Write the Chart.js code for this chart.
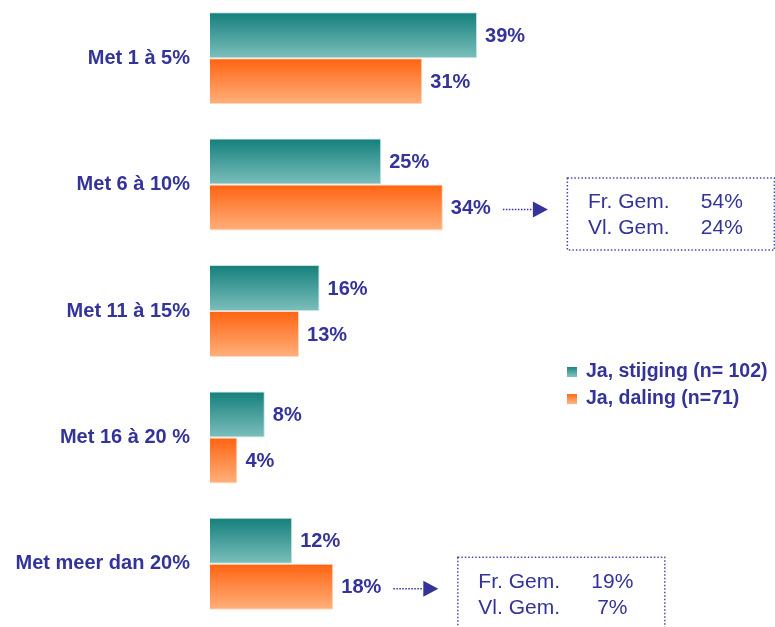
<!DOCTYPE html>
<html>
<head>
<meta charset="utf-8">
<script src="https://cdn.jsdelivr.net/npm/chart.js@4"></script>
<style>
  html, body { margin: 0; padding: 0; background: #fff; overflow: hidden; }
  #wrap { position: relative; width: 775px; height: 627px; overflow: hidden; }
  #chart { position: absolute; left: 0; top: -5px; }
</style>
</head>
<body>
<div id="wrap"><canvas id="chart" width="775" height="632"></canvas></div>
<script>
const categories = ["Met 1 à 5%", "Met 6 à 10%", "Met 11 à 15%", "Met 16 à 20 %", "Met meer dan 20%"];
const seriesNames = ["Ja, stijging (n= 102)", "Ja, daling (n=71)"];
const stijging = [39, 25, 16, 8, 12];
const daling = [31, 34, 13, 4, 18];

// callouts next to the "daling" bars
const calloutNames = ["Fr. Gem.", "Vl. Gem."];
const frGem = [null, 54, null, null, 19];
const vlGem = [null, 24, null, null, 7];

const navy = "#333399";
const teal = ["#147f7b", "#7cbfbc"];
const orange = ["#ff6310", "#ffb07c"];
const groupPct = 0.728;

function barGradient(ctx, colors, lower) {
    const chart = ctx.chart;
    const y = chart.scales.y;
    if (!y || ctx.dataIndex === undefined) return colors[0];
    const c = y.getPixelForValue(ctx.dataIndex);
    const step = Math.abs(y.getPixelForValue(1) - y.getPixelForValue(0));
    if (!isFinite(c) || !isFinite(step) || step === 0) return colors[0];
    const half = step * groupPct / 2;
    const top = lower ? c : c - half;
    const g = chart.ctx.createLinearGradient(0, top, 0, top + half);
    g.addColorStop(0, colors[0]);
    g.addColorStop(1, colors[1]);
    return g;
}

const overlay = {
    id: "overlay",
    afterDatasetsDraw(chart) {
        const ctx = chart.ctx;
        ctx.save();
        ctx.fillStyle = navy;
        ctx.textBaseline = "middle";
        ctx.textAlign = "left";
        ctx.font = "bold 20px 'Liberation Sans', Arial, sans-serif";
        const values = [stijging, daling];
        values.forEach((vals, i) => {
            chart.getDatasetMeta(i).data.forEach((bar, idx) => {
                ctx.fillText(vals[idx] + "%", bar.x + 8, bar.y + 1);
            });
        });

        // callouts
        const meta = chart.getDatasetMeta(1);
        frGem.forEach((fr, idx) => {
            if (fr === null) return;
            const bar = meta.data[idx];
            ctx.font = "bold 20px 'Liberation Sans', Arial, sans-serif";
            const w = ctx.measureText(daling[idx] + "%").width;
            const ay = bar.y + 2;
            const ax0 = bar.x + 8 + w + 12;
            const ax1 = ax0 + 30;
            ctx.strokeStyle = navy;
            ctx.lineWidth = 1.5;
            ctx.setLineDash([1.5, 1.5]);
            ctx.beginPath();
            ctx.moveTo(ax0, ay);
            ctx.lineTo(ax1, ay);
            ctx.stroke();
            ctx.setLineDash([]);
            ctx.beginPath();
            ctx.moveTo(ax1, ay - 8);
            ctx.lineTo(ax1 + 15, ay);
            ctx.lineTo(ax1, ay + 8);
            ctx.closePath();
            ctx.fill();

            const bx = ax1 + 34;
            const by = ay - 32;
            ctx.strokeStyle = "#4a4aa8";
            ctx.lineWidth = 1.5;
            ctx.setLineDash([1.5, 2]);
            ctx.strokeRect(bx + 0.5, by + 0.5, 207, 72);
            ctx.setLineDash([]);

            ctx.font = "21px 'Liberation Sans', Arial, sans-serif";
            ctx.textAlign = "left";
            ctx.fillText(calloutNames[0], bx + 21, by + 25);
            ctx.fillText(calloutNames[1], bx + 21, by + 51);
            ctx.textAlign = "center";
            ctx.fillText(fr + "%", bx + 155, by + 25);
            ctx.fillText(vlGem[idx] + "%", bx + 155, by + 51);
            ctx.textAlign = "left";
        });

        // legend
        const legendColors = [teal, orange];
        ctx.font = "bold 19.5px 'Liberation Sans', Arial, sans-serif";
        seriesNames.forEach((name, i) => {
            const ly = 376 + i * 27;
            const g = ctx.createLinearGradient(0, ly - 5, 0, ly + 5);
            g.addColorStop(0, legendColors[i][0]);
            g.addColorStop(1, legendColors[i][1]);
            ctx.fillStyle = g;
            ctx.fillRect(567, ly - 4, 10, 10);
            ctx.fillStyle = navy;
            ctx.fillText(name, 586, ly + 1);
        });
        ctx.restore();
    }
};

new Chart(document.getElementById("chart"), {
    type: "bar",
    data: {
        labels: categories,
        datasets: [
            {
                label: seriesNames[0],
                data: stijging,
                backgroundColor: ctx => barGradient(ctx, teal, false),
                borderColor: "#c4e4e2",
                borderWidth: 1,
                borderSkipped: "left"
            },
            {
                label: seriesNames[1],
                data: daling,
                backgroundColor: ctx => barGradient(ctx, orange, true),
                borderColor: "#ffd9c2",
                borderWidth: 1,
                borderSkipped: "left"
            }
        ]
    },
    options: {
        indexAxis: "y",
        responsive: false,
        animation: false,
        layout: { padding: 0 },
        datasets: {
            bar: { categoryPercentage: groupPct, barPercentage: 1 }
        },
        plugins: {
            legend: { display: false },
            tooltip: { enabled: false }
        },
        scales: {
            x: {
                display: false,
                min: 0,
                max: 82.5
            },
            y: {
                afterFit: scale => {
                    scale.width = 210;
                    scale.paddingTop = 0;
                    scale.paddingBottom = 0;
                },
                grid: { display: false, drawTicks: false },
                border: { display: false },
                ticks: {
                    padding: 20,
                    color: navy,
                    font: { family: "'Liberation Sans', Arial, sans-serif", size: 20, weight: "bold" }
                }
            }
        }
    },
    plugins: [overlay]
});
</script>
</body>
</html>
